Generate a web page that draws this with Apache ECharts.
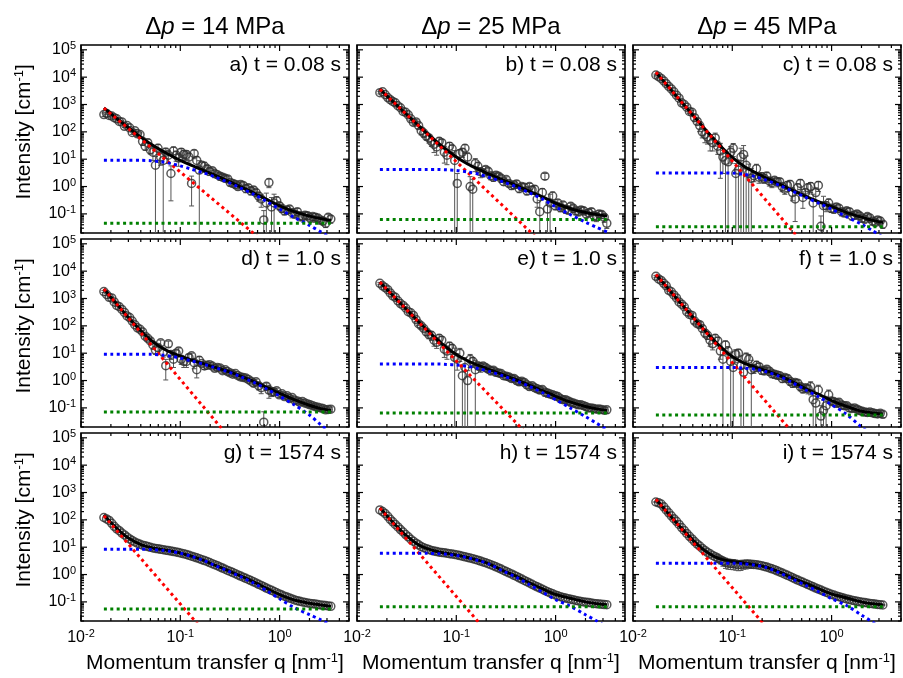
<!DOCTYPE html>
<html>
<head>
<meta charset="utf-8">
<script src="https://cdn.jsdelivr.net/npm/echarts@6/dist/echarts.min.js"></script>
<style>
html,body{margin:0;padding:0;background:#fff;}
#chart{width:903px;height:678px;}
</style>
</head>
<body>
<div id="chart"></div>
<script>
// ---- measured scattering curves: q in nm^-1, intensity in cm^-1 ----
// two interleaved q grids of the detector bins
const qData = [0.0170,0.0192,0.0216,0.0243,0.0274,0.0309,0.0348,0.0393,0.0443,0.0499,
  0.0562,0.0634,0.0714,0.0805,0.0907,0.1022,0.1152,0.1299,0.1464,0.165,
  0.186,0.2096,0.2362,0.2662,0.300,0.3381,0.3811,0.4295,0.4840,0.5455,
  0.6148,0.6929,0.7809,0.8801,0.9919,1.118,1.26,1.42,1.60,1.804,
  2.033,2.291,2.582,2.91,3.28];
const qData2 = [0.0181,0.0204,0.0229,0.0258,0.0291,0.0328,0.037,0.0417,0.047,0.053,
  0.0597,0.0673,0.0758,0.0854,0.0963,0.1085,0.1223,0.1379,0.1554,0.1752,
  0.1975,0.2225,0.2508,0.2826,0.3185,0.359,0.4046,0.4559,0.5138,0.5791,
  0.6527,0.7356,0.829,0.9344,1.053,1.187,1.338,1.507,1.699,1.915,
  2.158,2.432,2.741,3.089];

const qFit = [0.017,0.02,0.025,0.03,0.04,0.05,0.065,0.08,0.1,0.13,0.17,0.22,0.3,0.4,0.55,0.75,1.0,1.4,2.0,2.6,3.3];

const pressures = ['14', '25', '45'];
const panelLabels = ['a) t = 0.08 s','b) t = 0.08 s','c) t = 0.08 s',
  'd) t = 1.0 s','e) t = 1.0 s','f) t = 1.0 s',
  'g) t = 1574 s','h) t = 1574 s','i) t = 1574 s'];

const yDecades = [0.01,0.1,1,10,100,1000,10000,100000];
const xDecades = [0.01,0.1,1];
const minorSteps = [2,3,4,5,6,7,8,9];

// intensities and relative error bars, grid 1
const dataA = [430,400,330,240,160,140,110,80,30,22,6,12,18,3,14,18,15,1.3,9,6,4.5,3.8,2.7,2.2,1.9,1.3,1.0,1.1,0.9,0.75,0.45,0.06,1.4,0.25,0.2,0.13,0.15,0.1,0.085,0.09,0.07,0.075,0.06,0.045,0.065];
const errA = [0.15,0.1,0.1,0.1,0.1,0.12,0.12,0.15,0.3,0.3,1.1,0.5,0.4,0.9,0.4,0.35,0.35,0.85,0.4,0.3,0.3,0.25,0.25,0.25,0.25,0.25,0.25,0.25,0.3,0.3,0.35,1.2,0.35,1.1,0.3,0.3,0.3,0.3,0.35,0.3,0.3,0.35,0.3,0.3,0.3];
const dataB = [2700,2300,1500,1150,760,520,300,230,110,70,45,28,40,14,24,1.3,18,12,0.8,5.5,3.2,3.6,2.2,2.4,1.5,1.3,1.15,0.85,0.95,1.0,0.8,0.12,2.4,0.25,0.2,0.17,0.15,0.19,0.13,0.14,0.1,0.12,0.08,0.095,0.045];
const errB = [0.1,0.1,0.1,0.1,0.1,0.12,0.15,0.2,0.3,0.3,0.35,0.5,0.3,0.55,0.35,1.3,0.35,0.4,1.3,0.4,0.3,0.3,0.3,0.25,0.25,0.25,0.25,0.3,0.3,0.3,0.35,1.6,0.25,1.1,0.3,0.3,0.3,0.3,0.3,0.3,0.3,0.3,0.35,0.3,0.35];
const dataC = [12000,9000,5800,3700,2200,1150,800,520,240,100,65,40,30,12,8,25,4,15,3,2.5,2.2,2.0,1.6,1.7,1.5,0.8,1.2,0.35,1.3,0.6,1.0,0.6,0.035,0.2,0.16,0.18,0.12,0.13,0.085,0.1,0.07,0.08,0.055,0.06,0.042];
const errC = [0.08,0.08,0.08,0.08,0.1,0.1,0.12,0.15,0.25,0.4,0.45,0.5,0.5,0.75,1.3,0.5,1.3,1.1,1.2,0.4,0.4,0.35,0.35,0.3,0.3,0.35,0.4,0.85,0.4,0.35,0.4,0.5,1.4,0.4,0.3,0.3,0.3,0.3,0.3,0.3,0.3,0.3,0.3,0.3,0.3];
const dataD = [1800,1100,750,500,310,200,110,75,42,28,13,24,3.5,9,10,6,5,8,2.5,4.2,3.6,3.4,3.0,2.3,2.1,1.7,1.5,1.3,1.1,0.8,0.65,0.03,0.45,0.38,0.3,0.26,0.22,0.19,0.16,0.15,0.13,0.11,0.1,0.085,0.09];
const errD = [0.08,0.08,0.08,0.08,0.08,0.1,0.1,0.12,0.15,0.2,0.3,0.25,0.7,0.35,0.3,0.35,0.4,0.25,0.5,0.2,0.2,0.2,0.2,0.2,0.2,0.2,0.2,0.2,0.2,0.25,0.3,1.4,0.5,0.25,0.2,0.2,0.2,0.2,0.2,0.2,0.2,0.2,0.2,0.2,0.2];
const dataE = [3600,2500,1600,1100,650,450,300,170,100,60,45,25,30,12,15,6,1.5,1.0,5,3.5,3.4,2.6,2.4,1.9,1.5,1.35,1.2,0.9,0.85,0.6,0.55,0.45,0.38,0.32,0.28,0.22,0.2,0.16,0.14,0.13,0.11,0.1,0.09,0.088,0.085];
const errE = [0.08,0.08,0.08,0.08,0.1,0.1,0.12,0.15,0.2,0.25,0.35,0.4,0.35,0.5,0.4,0.6,1.4,1.3,0.4,0.3,0.3,0.25,0.25,0.25,0.25,0.25,0.25,0.25,0.25,0.25,0.25,0.25,0.3,0.25,0.25,0.25,0.25,0.25,0.25,0.25,0.25,0.25,0.25,0.25,0.25];
const dataF = [6500,4600,2900,1750,1050,620,330,240,120,80,45,22,28,6,12,3,10,2,6,2.8,3.2,2.3,2.2,1.7,1.5,1.3,0.95,0.85,0.6,0.55,0.6,0.15,0.05,0.12,0.18,0.15,0.13,0.12,0.095,0.09,0.075,0.068,0.066,0.06,0.058];
const errF = [0.08,0.08,0.08,0.08,0.08,0.1,0.12,0.15,0.2,0.25,0.3,0.4,0.35,1.1,0.45,1.2,0.4,1.3,0.5,0.35,0.3,0.3,0.3,0.3,0.25,0.25,0.3,0.3,0.3,0.3,0.5,1.3,1.4,1.2,0.3,0.3,0.3,0.25,0.25,0.25,0.25,0.25,0.25,0.25,0.25];
const dataG = [122,95,58,40,28,20,15.5,12.8,11.2,9.9,9.0,8.4,7.8,7.2,6.7,6.0,5.4,4.7,4.1,3.5,3.0,2.5,2.1,1.72,1.42,1.18,0.97,0.8,0.66,0.54,0.44,0.36,0.29,0.24,0.195,0.162,0.138,0.118,0.105,0.095,0.088,0.083,0.077,0.073,0.069];
const dataH = [230,170,105,68,44,29,19.5,14,10.5,8.8,7.6,6.9,6.4,6.0,5.6,5.2,4.7,4.2,3.8,3.35,2.9,2.5,2.1,1.75,1.42,1.16,0.94,0.76,0.61,0.49,0.39,0.32,0.26,0.215,0.18,0.155,0.138,0.125,0.113,0.104,0.097,0.091,0.086,0.082,0.079];
const dataI = [450,380,230,140,88,52,32,20,13,9.0,6.5,5.0,4.0,3.1,2.6,2.5,2.3,2.4,2.45,2.35,2.2,1.98,1.75,1.5,1.25,1.03,0.85,0.69,0.57,0.47,0.39,0.32,0.27,0.225,0.19,0.165,0.145,0.128,0.115,0.105,0.097,0.091,0.086,0.081,0.077];
const errI = [0.03,0.03,0.03,0.03,0.03,0.03,0.03,0.03,0.03,0.03,0.03,0.03,0.3,0.35,0.4,0.4,0.4,0.35,0.3,0.15,0.03,0.03,0.03,0.03,0.03,0.03,0.03,0.03,0.03,0.03,0.03,0.03,0.03,0.03,0.03,0.03,0.03,0.03,0.03,0.03,0.03,0.03,0.03,0.03,0.03];

// intensities and relative error bars, grid 2
const dataA2 = [470,380,300,230,170,95,85,45,40,18,25,9,14,20,11,15,12,16,4,5.5,3.6,3.0,2.4,2.0,1.4,1.2,1.2,0.85,0.7,0.6,0.35,0.25,0.18,0.3,0.16,0.14,0.11,0.12,0.08,0.085,0.08,0.07,0.055,0.075];
const errA2 = [0.1,0.1,0.1,0.1,0.12,0.15,0.2,0.3,0.35,0.5,0.4,1.2,0.5,0.4,0.5,0.4,0.4,0.35,1.2,0.4,0.3,0.3,0.3,0.25,0.25,0.3,0.3,0.3,0.3,0.3,0.5,1.3,1.2,0.4,0.3,0.3,0.35,0.3,0.3,0.3,0.3,0.3,0.3,0.3];
const dataB2 = [2900,1800,1300,900,560,420,220,170,90,60,35,45,18,30,9,16,25,1.0,7,3.5,4.2,2.5,2.6,2.0,1.8,1.1,1.25,1.0,0.7,0.75,0.35,0.6,0.15,0.45,0.25,0.21,0.14,0.16,0.12,0.13,0.11,0.085,0.1,0.075];
const errB2 = [0.1,0.1,0.1,0.1,0.12,0.15,0.2,0.25,0.3,0.35,0.5,0.35,0.6,0.35,1.3,0.4,0.35,1.3,0.5,0.4,0.3,0.3,0.3,0.3,0.25,0.3,0.3,0.3,0.3,0.3,0.5,0.4,1.3,0.4,0.3,0.3,0.3,0.3,0.3,0.3,0.3,0.35,0.3,0.35];
const dataC2 = [10500,7300,4600,2900,1700,1000,560,330,170,80,50,60,20,9,18,3,12,6,2,4.5,2.3,2.4,1.4,1.5,1.0,1.1,0.6,0.9,0.4,0.9,0.25,1.1,0.2,0.25,0.15,0.16,0.11,0.12,0.09,0.085,0.065,0.07,0.05,0.055];
const errC2 = [0.08,0.08,0.08,0.08,0.1,0.12,0.15,0.25,0.4,0.5,0.6,0.5,0.9,1.2,0.6,1.3,1.1,1.2,1.3,0.45,0.4,0.4,0.35,0.35,0.35,0.4,0.5,0.4,0.6,0.4,1.1,0.4,1.2,0.4,0.3,0.3,0.3,0.3,0.3,0.3,0.3,0.3,0.3,0.3];
const dataD2 = [1400,1050,560,400,230,150,85,60,35,20,16,11,22,6,12,5,7,4.5,5.5,3.4,3.8,2.8,2.9,2.5,1.9,1.8,1.35,1.25,0.95,0.9,0.55,0.62,0.4,0.42,0.33,0.28,0.24,0.18,0.17,0.14,0.12,0.105,0.095,0.088];
const errD2 = [0.08,0.08,0.08,0.08,0.1,0.1,0.12,0.15,0.2,0.3,0.3,0.35,0.25,0.5,0.3,0.4,0.3,0.4,0.35,0.25,0.2,0.2,0.2,0.2,0.2,0.2,0.2,0.2,0.2,0.25,0.4,0.3,0.35,0.25,0.2,0.2,0.2,0.2,0.2,0.2,0.2,0.2,0.2,0.2];
const dataE2 = [2900,2100,1250,820,560,330,240,120,80,48,30,35,14,18,7,10,3,6,2.5,3.1,3.0,2.3,2.0,1.8,1.45,1.2,1.0,0.95,0.7,0.65,0.5,0.47,0.35,0.3,0.26,0.2,0.18,0.15,0.13,0.12,0.1,0.095,0.092,0.082];
const errE2 = [0.08,0.08,0.08,0.08,0.1,0.1,0.12,0.15,0.2,0.3,0.4,0.35,0.5,0.4,1.2,0.5,1.3,0.5,1.2,0.35,0.3,0.3,0.25,0.25,0.25,0.25,0.25,0.25,0.25,0.25,0.25,0.25,0.3,0.25,0.25,0.25,0.25,0.25,0.25,0.25,0.25,0.25,0.25,0.25];
const dataF2 = [5200,3600,2000,1350,750,500,260,150,110,55,30,35,12,20,5,9,3.5,7,2.5,3.6,2.4,2.6,1.8,1.6,1.2,1.2,0.8,0.8,0.5,0.5,0.2,0.45,0.08,0.3,0.17,0.16,0.12,0.1,0.1,0.08,0.07,0.07,0.062,0.063];
const errF2 = [0.08,0.08,0.08,0.08,0.1,0.12,0.15,0.2,0.25,0.3,0.4,0.35,0.5,0.4,1.2,0.5,1.3,0.45,1.2,0.4,0.3,0.3,0.3,0.3,0.3,0.3,0.3,0.3,0.3,0.35,1.2,0.5,1.4,0.5,0.3,0.3,0.25,0.25,0.25,0.25,0.25,0.25,0.25,0.25];
const dataG2 = [108,75,47,33,23.5,17.5,14,11.9,10.5,9.4,8.7,8.1,7.5,6.95,6.35,5.7,5.05,4.4,3.8,3.25,2.75,2.3,1.9,1.56,1.3,1.07,0.88,0.73,0.6,0.49,0.4,0.32,0.265,0.215,0.178,0.15,0.128,0.111,0.1,0.091,0.085,0.08,0.075,0.071];
const dataH2 = [200,135,85,55,36,24,16.5,12.2,9.6,8.2,7.2,6.6,6.2,5.8,5.4,4.95,4.45,4.0,3.55,3.1,2.7,2.3,1.92,1.58,1.28,1.05,0.85,0.68,0.55,0.44,0.355,0.29,0.235,0.197,0.167,0.146,0.131,0.119,0.108,0.1,0.094,0.088,0.084,0.08];
const dataI2 = [420,300,180,110,68,41,25,16,11,7.6,5.7,4.5,3.5,2.8,2.55,2.4,2.35,2.45,2.4,2.28,2.1,1.87,1.62,1.37,1.14,0.94,0.77,0.63,0.52,0.43,0.355,0.295,0.245,0.207,0.177,0.155,0.136,0.121,0.11,0.101,0.094,0.088,0.083,0.079];
const errI2 = [0.03,0.03,0.03,0.03,0.03,0.03,0.03,0.03,0.03,0.03,0.03,0.03,0.3,0.4,0.4,0.4,0.4,0.35,0.3,0.15,0.03,0.03,0.03,0.03,0.03,0.03,0.03,0.03,0.03,0.03,0.03,0.03,0.03,0.03,0.03,0.03,0.03,0.03,0.03,0.03,0.03,0.03,0.03,0.03];

// model fit (black) and its contributions: power law (red), structure term (blue), background (green)
const fitA = [752,462,239,141,64.1,36.7,20.6,13.7,9.1,5.9,3.9,2.65,1.62,1.0,0.58,0.33,0.198,0.121,0.083,0.067,0.058];
const blueA = [9.1,9.1,9.1,9.1,9.1,8.8,8.0,7.0,5.7,4.3,3.2,2.3,1.45,0.9,0.52,0.28,0.15,0.075,0.038,0.022,0.013];
const fitB = [3624,2074,963,516,194,92,40,21.6,12.1,6.7,4.16,2.7,1.69,1.11,0.665,0.41,0.245,0.157,0.112,0.094,0.084];
const blueB = [4.2,4.2,4.2,4.2,4.2,4.2,4.2,4.1,3.9,3.4,2.8,2.1,1.45,0.98,0.58,0.34,0.18,0.095,0.05,0.032,0.022];
const fitC = [15100,7620,2970,1380,412,163,55.8,25.2,11.7,5.65,3.25,2.04,1.22,0.74,0.44,0.274,0.184,0.114,0.076,0.058,0.048];
const blueC = [3.16,3.16,3.16,3.16,3.16,3.16,3.16,3.15,3.1,2.8,2.3,1.7,1.1,0.68,0.4,0.24,0.15,0.08,0.042,0.024,0.014];
const fitD = [2250,1120,435,204,65.8,30.9,15.7,10.7,7.8,5.6,4.18,3.1,2.18,1.47,0.92,0.55,0.34,0.2,0.125,0.094,0.082];
const blueD = [9.2,9.2,9.2,9.2,9.2,9.2,8.6,7.8,6.6,5.2,4.0,3.0,2.1,1.4,0.85,0.48,0.27,0.13,0.055,0.024,0.012];
const fitE = [3984,2164,941,477,165,73.7,30.1,16,9.0,5.3,3.48,2.44,1.6,1.07,0.67,0.42,0.265,0.165,0.113,0.092,0.081];
const blueE = [4.0,4.0,4.0,4.0,4.0,4.0,4.0,3.9,3.7,3.3,2.7,2.1,1.45,0.98,0.6,0.35,0.2,0.1,0.048,0.027,0.016];
const fitF = [7593,3833,1503,701,211,84.7,30.2,14.5,7.5,4.4,3.1,2.3,1.5,0.92,0.5,0.305,0.185,0.115,0.075,0.065,0.06];
const blueF = [3.0,3.0,3.0,3.0,3.0,3.0,3.0,3.0,3.0,2.85,2.6,2.1,1.4,0.85,0.45,0.25,0.13,0.06,0.02,0.01,0.005];
const fitG = [149.5,79.9,36.5,21.6,12.4,9.8,8.26,7.27,6.14,4.68,3.36,2.26,1.41,0.905,0.535,0.305,0.185,0.117,0.089,0.077,0.069];
const blueG = [8.5,8.5,8.5,8.5,8.5,8.2,7.7,7.0,6.0,4.6,3.3,2.2,1.35,0.85,0.48,0.25,0.13,0.062,0.034,0.022,0.014];
const fitH = [275,142,59.3,30.9,13.5,9.0,6.83,5.97,5.22,4.22,3.28,2.37,1.37,0.87,0.49,0.29,0.186,0.136,0.1,0.086,0.078];
const blueH = [6.0,6.0,6.0,6.0,6.0,6.0,5.8,5.5,5.0,4.1,3.2,2.3,1.3,0.8,0.42,0.22,0.12,0.07,0.034,0.02,0.012];
const fitI = [565,287,114,54.5,18.2,8.7,4.68,3.5,3.0,2.63,2.3,1.88,1.22,0.77,0.47,0.3,0.197,0.142,0.1,0.085,0.077];
const blueI = [2.6,2.6,2.6,2.6,2.6,2.6,2.6,2.6,2.6,2.45,2.2,1.8,1.15,0.7,0.4,0.23,0.13,0.075,0.033,0.018,0.01];

const redA = [[0.017,743],[0.68,0.01]];
const redB = [[0.017,3620],[0.70,0.01]];
const redC = [[0.017,15100],[0.495,0.01]];
const redD = [[0.017,2240],[0.298,0.01]];
const redE = [[0.017,3980],[0.53,0.01]];
const redF = [[0.017,7590],[0.427,0.01]];
const redG = [[0.017,141],[0.166,0.01]];
const redH = [[0.017,269],[0.193,0.01]];
const redI = [[0.017,562],[0.23,0.01]];

const backgroundLevels = [0.045,0.062,0.034,0.07,0.065,0.055,0.055,0.066,0.067];

const panels = [
  {data: dataA, err: errA, data2: dataA2, err2: errA2, fit: fitA, blue: blueA, red: redA},
  {data: dataB, err: errB, data2: dataB2, err2: errB2, fit: fitB, blue: blueB, red: redB},
  {data: dataC, err: errC, data2: dataC2, err2: errC2, fit: fitC, blue: blueC, red: redC},
  {data: dataD, err: errD, data2: dataD2, err2: errD2, fit: fitD, blue: blueD, red: redD},
  {data: dataE, err: errE, data2: dataE2, err2: errE2, fit: fitE, blue: blueE, red: redE},
  {data: dataF, err: errF, data2: dataF2, err2: errF2, fit: fitF, blue: blueF, red: redF},
  {data: dataG, err: null, data2: dataG2, err2: null, fit: fitG, blue: blueG, red: redG},
  {data: dataH, err: null, data2: dataH2, err2: null, fit: fitH, blue: blueH, red: redH},
  {data: dataI, err: errI, data2: dataI2, err2: errI2, fit: fitI, blue: blueI, red: redI}
];

// ---- layout ----
const FONT = "'Liberation Sans', Arial, sans-serif";
const LEFTS = [81, 357, 633];
const TOPS = [45, 239, 433];
const W = 268, H = 188;
const X_MIN = 0.01, X_MAX = 5;
const Y_MIN = 0.02, Y_MAX = 1.5e5;

const supRich = {
  b: {fontSize: 16, fontFamily: FONT, color: '#000'},
  s: {fontSize: 11, fontFamily: FONT, color: '#000', padding: [0, 0, 8, 0]}
};
function powLabel(v) {
  const e = Math.round(Math.log10(v));
  return '{b|10}{s|' + e + '}';
}

function errorBarSeries(k, qs, vals, rel) {
  const bars = qs.map((q, i) => {
    const v = vals[i], r = rel[i];
    return [q, Math.max(v * (1 - r), Y_MIN), Math.min(v * (1 + r), Y_MAX)];
  });
  return {
    type: 'custom', xAxisIndex: k, yAxisIndex: k, z: 2, silent: true,
    data: bars, encode: {x: 0, y: [1, 2]},
    renderItem(params, api) {
      const q = api.value(0), lo = api.value(1), hi = api.value(2);
      const a = api.coord([q, lo]), b = api.coord([q, hi]);
      const st = {stroke: '#555', lineWidth: 1};
      const kids = [
        {type: 'line', shape: {x1: a[0], y1: a[1], x2: b[0], y2: b[1]}, style: st},
        {type: 'line', shape: {x1: b[0] - 2.5, y1: b[1], x2: b[0] + 2.5, y2: b[1]}, style: st}
      ];
      if (lo > Y_MIN) kids.push({type: 'line', shape: {x1: a[0] - 2.5, y1: a[1], x2: a[0] + 2.5, y2: a[1]}, style: st});
      return {type: 'group', children: kids};
    }
  };
}

const grids = [], xAxes = [], yAxes = [], series = [], graphics = [];

panels.forEach((p, k) => {
  const row = Math.floor(k / 3), col = k % 3;
  grids.push({left: LEFTS[col], top: TOPS[row], width: W, height: H, show: true,
    borderColor: '#000', borderWidth: 1.6, backgroundColor: 'rgba(0,0,0,0)'});
  xAxes.push({type: 'log', logBase: 10, gridIndex: k, min: X_MIN, max: X_MAX,
    axisLine: {show: false}, axisTick: {show: false}, splitLine: {show: false},
    axisLabel: {show: row === 2, showMinLabel: true, showMaxLabel: false, margin: 7,
      formatter: powLabel, rich: supRich}});
  yAxes.push({type: 'log', logBase: 10, gridIndex: k, min: Y_MIN, max: Y_MAX,
    axisLine: {show: false}, axisTick: {show: false}, splitLine: {show: false},
    axisLabel: {show: col === 0, showMinLabel: false, showMaxLabel: false, margin: 5,
      formatter: powLabel, rich: supRich}});

  if (p.err) series.push(errorBarSeries(k, qData, p.data, p.err));
  if (p.err2) series.push(errorBarSeries(k, qData2, p.data2, p.err2));

  // measured points from both grids
  const pts = qData.map((q, i) => [q, p.data[i]]).concat(qData2.map((q, i) => [q, p.data2[i]]));
  series.push({
    type: 'scatter', xAxisIndex: k, yAxisIndex: k, z: 3, silent: true,
    data: pts, symbol: 'circle', symbolSize: 8,
    itemStyle: {color: 'rgba(255,255,255,0)', borderColor: '#2e2e2e', borderWidth: 1.5}
  });

  // fit curve
  series.push({
    type: 'line', xAxisIndex: k, yAxisIndex: k, z: 4, silent: true,
    data: qFit.map((q, i) => [q, p.fit[i]]), showSymbol: false, smooth: 0.3,
    lineStyle: {color: '#000', width: 3}
  });

  const dot = [3, 3.4];
  // power-law term
  series.push({
    type: 'line', xAxisIndex: k, yAxisIndex: k, z: 6, silent: true,
    data: p.red, showSymbol: false,
    lineStyle: {color: '#ff0000', width: 3, type: dot}
  });
  // structure term
  series.push({
    type: 'line', xAxisIndex: k, yAxisIndex: k, z: 6, silent: true,
    data: qFit.map((q, i) => [q, p.blue[i]]), showSymbol: false, smooth: 0.3,
    lineStyle: {color: '#0000ff', width: 3, type: dot}
  });
  // flat background
  series.push({
    type: 'line', xAxisIndex: k, yAxisIndex: k, z: 6, silent: true,
    data: [[qData[0], backgroundLevels[k]], [qData[qData.length - 1], backgroundLevels[k]]],
    showSymbol: false,
    lineStyle: {color: '#008000', width: 3, type: dot}
  });

  // inward major/minor ticks on all four sides
  series.push({
    type: 'custom', xAxisIndex: k, yAxisIndex: k, z: 8, silent: true,
    data: [[1, 1]],
    renderItem(params, api) {
      const cs = params.coordSys;
      const L = cs.x, R = cs.x + cs.width, T = cs.y, B = cs.y + cs.height;
      const st = {stroke: '#000', lineWidth: 1.2};
      const kids = [];
      const seg = (x1, y1, x2, y2) => kids.push({type: 'line', shape: {x1, y1, x2, y2}, style: st});
      xDecades.forEach(d => {
        [1].concat(minorSteps).forEach(m => {
          const v = d * m;
          if (v < X_MIN * 0.999 || v > X_MAX) return;
          const px = api.coord([v, 1])[0];
          const len = m === 1 ? 6 : 3;
          seg(px, B, px, B - len);
          seg(px, T, px, T + len);
        });
      });
      yDecades.forEach(d => {
        [1].concat(minorSteps).forEach(m => {
          const v = d * m;
          if (v < Y_MIN || v > Y_MAX) return;
          const py = api.coord([1, v])[1];
          const len = m === 1 ? 6 : 3;
          seg(L, py, L + len, py);
          seg(R, py, R - len, py);
        });
      });
      return {type: 'group', children: kids};
    }
  });

  // panel caption
  graphics.push({
    type: 'text', x: LEFTS[col] + W - 8, y: TOPS[row] + 20, z: 20,
    style: {text: panelLabels[k], font: '21px ' + FONT, fill: '#000',
      align: 'right', textAlign: 'right', verticalAlign: 'middle', textVerticalAlign: 'middle'}
  });
});

const titleRich = {
  n: {fontSize: 24, fontFamily: FONT, color: '#000'},
  i: {fontSize: 24, fontFamily: FONT, fontStyle: 'italic', color: '#000'}
};
pressures.forEach((pr, col) => {
  graphics.push({
    type: 'text', x: LEFTS[col] + W / 2, y: 27, z: 20,
    style: {text: '{n|\u0394}{i|p}{n| = ' + pr + ' MPa}', rich: titleRich,
      align: 'center', textAlign: 'center', verticalAlign: 'middle', textVerticalAlign: 'middle'}
  });
});

const axisTitleRich = {
  n: {fontSize: 21, fontFamily: FONT, color: '#000'},
  s: {fontSize: 13, fontFamily: FONT, color: '#000', padding: [0, 0, 10, 0]}
};
const logSpan = Math.log10(Y_MAX) - Math.log10(Y_MIN);
TOPS.forEach(top => {
  const yc = top + H * (Math.log10(Y_MAX) - 2) / logSpan;
  graphics.push({
    type: 'text', x: 24, y: yc, rotation: Math.PI / 2, z: 20,
    style: {text: '{n|Intensity [cm}{s|-1}{n|]}', rich: axisTitleRich,
      align: 'center', textAlign: 'center', verticalAlign: 'middle', textVerticalAlign: 'middle'}
  });
});
LEFTS.forEach(left => {
  graphics.push({
    type: 'text', x: left + W / 2, y: 663, z: 20,
    style: {text: '{n|Momentum transfer q [nm}{s|-1}{n|]}', rich: axisTitleRich,
      align: 'center', textAlign: 'center', verticalAlign: 'middle', textVerticalAlign: 'middle'}
  });
});

const chart = echarts.init(document.getElementById('chart'), null, {renderer: 'canvas'});
chart.setOption({
  animation: false,
  backgroundColor: '#fff',
  textStyle: {fontFamily: FONT},
  grid: grids,
  xAxis: xAxes,
  yAxis: yAxes,
  series: series,
  graphic: graphics
});
</script>
</body>
</html>
